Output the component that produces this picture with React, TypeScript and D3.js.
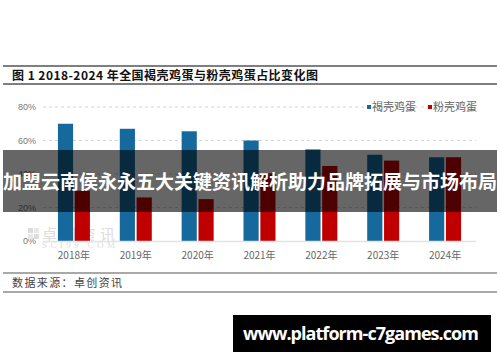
import { useRef, useEffect } from "react";
import * as d3 from "d3";

const YEARS = ["2018年", "2019年", "2020年", "2021年", "2022年", "2023年", "2024年"];
const BROWN = [70, 67, 65.5, 60, 54.7, 51.5, 50];
const PINK = [30, 26, 25, 40.4, 44.8, 48, 50];
const SERIES = ["褐壳鸡蛋", "粉壳鸡蛋"];
const Y_TICKS = [0, 20, 40, 60, 80];

const COLORS = ["#16699c", "#c00000"];

export default function App() {
  const svgRef = useRef<SVGSVGElement>(null);

  useEffect(() => {
    if (!svgRef.current) return;
    const svg = d3.select(svgRef.current);
    svg.selectAll("*").remove();

    const W = 500;
    const H = 362;
    svg.attr("width", W).attr("height", H);
    svg.append("rect").attr("width", W).attr("height", H).attr("fill", "#fff");

    // Title with rules
    svg.append("line").attr("x1", 3).attr("x2", 497).attr("y1", 66).attr("y2", 66)
      .attr("stroke", "#555").attr("stroke-width", 1.5);
    svg.append("line").attr("x1", 3).attr("x2", 497).attr("y1", 84).attr("y2", 84)
      .attr("stroke", "#555").attr("stroke-width", 1.5);
    svg.append("text").attr("x", 12).attr("y", 79.5)
      .attr("font-family", "'Noto Sans CJK SC', sans-serif").attr("font-weight", 700)
      .attr("font-size", 12).attr("fill", "#111").attr("textLength", 306)
      .text("图 1 2018-2024 年全国褐壳鸡蛋与粉壳鸡蛋占比变化图");

    const x = d3.scaleBand().domain(YEARS).range([43, 476]);
    const y = d3.scaleLinear().domain([0, 80]).range([241, 107]);
    const inner = d3.scaleBand().domain(SERIES).range([x.bandwidth() / 2 - 16, x.bandwidth() / 2 + 16]).paddingInner(0.1);

    // Grid
    Y_TICKS.filter((t) => t > 0).forEach((t) => {
      svg.append("line").attr("x1", 43).attr("x2", 476).attr("y1", y(t)).attr("y2", y(t))
        .attr("stroke", "#d4d4d4").attr("stroke-dasharray", "3,3");
    });
    Y_TICKS.forEach((t) => {
      svg.append("text").attr("x", 36).attr("y", y(t)).attr("dy", "0.35em")
        .attr("text-anchor", "end").attr("font-family", "'Liberation Sans', sans-serif")
        .attr("font-size", 9).attr("fill", "#777").text(`${t}%`);
    });

    // Watermark logo (behind the bars)
    const wm = svg.append("g").attr("fill", "#dcdcdc");
    wm.append("rect").attr("x", 28).attr("y", 228).attr("width", 5).attr("height", 5);
    wm.append("rect").attr("x", 34).attr("y", 228).attr("width", 5).attr("height", 5).attr("fill", "#e8e8e8");
    wm.append("rect").attr("x", 28).attr("y", 234).attr("width", 5).attr("height", 5).attr("fill", "#e8e8e8");
    wm.append("rect").attr("x", 34).attr("y", 234).attr("width", 5).attr("height", 5);
    wm.append("text").attr("x", 42).attr("y", 240).attr("font-family", "'Noto Sans CJK SC', sans-serif")
      .attr("font-size", 15).attr("textLength", 73).text("卓创资讯");
    wm.append("text").attr("x", 42).attr("y", 248).attr("font-family", "'Liberation Serif', serif")
      .attr("font-size", 9).attr("textLength", 73).text("SCI99.COM");

    // Bars
    const data = [BROWN, PINK];
    data.forEach((vals, si) => {
      svg.append("g").selectAll("rect").data(vals).join("rect")
        .attr("x", (_, i) => (x(YEARS[i]) ?? 0) + (inner(SERIES[si]) ?? 0))
        .attr("y", (d) => y(d))
        .attr("width", inner.bandwidth())
        .attr("height", (d) => y(0) - y(d))
        .attr("fill", COLORS[si]);
    });

    // Baseline
    svg.append("line").attr("x1", 43).attr("x2", 476).attr("y1", y(0) + 0.5).attr("y2", y(0) + 0.5)
      .attr("stroke", "#e3e3e3").attr("stroke-width", 1.5);

    // X labels
    YEARS.forEach((yr) => {
      svg.append("text").attr("x", (x(yr) ?? 0) + x.bandwidth() / 2).attr("y", 259)
        .attr("text-anchor", "middle").attr("font-family", "'Noto Sans CJK SC', sans-serif")
        .attr("font-size", 10).attr("fill", "#666").text(yr);
    });

    // Legend
    const lg = svg.append("g").attr("font-family", "'Noto Sans CJK SC', sans-serif").attr("font-size", 11).attr("fill", "#666");
    const lx = [367, 428];
    SERIES.forEach((s, i) => {
      lg.append("rect").attr("x", lx[i]).attr("y", 105).attr("width", 4).attr("height", 4).attr("fill", COLORS[i]);
      lg.append("text").attr("x", lx[i] + 5).attr("y", 107).attr("dy", "0.35em").text(s);
    });

    // Footer
    svg.append("line").attr("x1", 3).attr("x2", 497).attr("y1", 273).attr("y2", 273)
      .attr("stroke", "#555").attr("stroke-width", 1.2);
    svg.append("line").attr("x1", 3).attr("x2", 497).attr("y1", 292).attr("y2", 292)
      .attr("stroke", "#555").attr("stroke-width", 1.2);
    svg.append("text").attr("x", 12).attr("y", 287)
      .attr("font-family", "'Noto Sans CJK SC', sans-serif").attr("font-size", 11).attr("fill", "#444")
      .attr("textLength", 110)
      .text("数据来源：卓创资讯");

    // Overlay banner
    svg.append("rect").attr("x", 3).attr("y", 150).attr("width", 494).attr("height", 62)
      .attr("fill", "#000").attr("fill-opacity", 0.6);
    svg.append("text").attr("x", 250).attr("y", 182).attr("dy", "0.35em").attr("text-anchor", "middle")
      .attr("font-family", "'Noto Sans CJK SC', sans-serif").attr("font-weight", 700)
      .attr("font-size", 19).attr("fill", "#fff").attr("textLength", 494)
      .text("加盟云南侯永永五大关键资讯解析助力品牌拓展与市场布局");

    // Site tag
    svg.append("rect").attr("x", 233).attr("y", 315).attr("width", 258).attr("height", 37).attr("fill", "#000");
    svg.append("text").attr("x", 361).attr("y", 333.5).attr("dy", "0.35em").attr("text-anchor", "middle")
      .attr("font-family", "'Open Sans', sans-serif").attr("font-weight", 700)
      .attr("font-size", 18).attr("fill", "#fff").attr("textLength", 236)
      .text("www.platform-c7games.com");
  }, []);

  return (
    <div style={{ position: "fixed", left: 0, top: 0 }}>
      <svg ref={svgRef} style={{ display: "block" }} />
    </div>
  );
}
